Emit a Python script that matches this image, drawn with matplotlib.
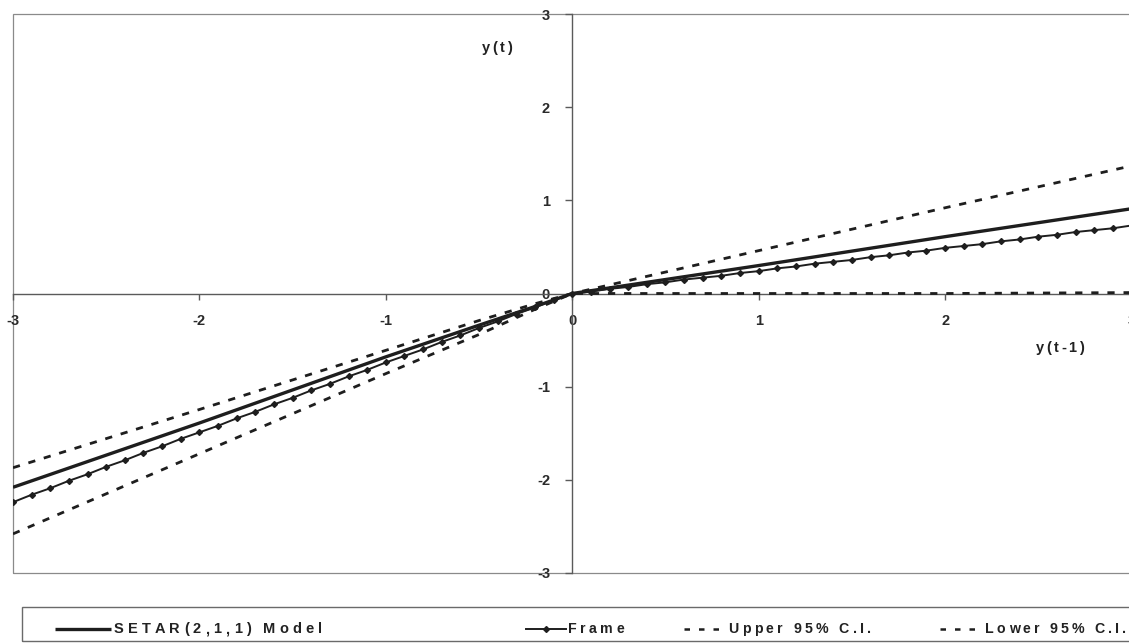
import numpy as np
import matplotlib
matplotlib.use("Agg")
import matplotlib.pyplot as plt
from matplotlib.lines import Line2D
from matplotlib.patches import Rectangle
from matplotlib.font_manager import FontProperties

plt.rcParams["font.family"] = ["Liberation Sans", "DejaVu Sans"]
plt.rcParams["axes.unicode_minus"] = False

# ---- data -------------------------------------------------------------
# lagged value grid for the model and confidence band
x_model = [-3.0, -2.0, -1.0, -0.5, -0.2, 0.0, 1.0, 2.0, 3.0]
setar = [-2.08, -1.39, -0.68, -0.34, -0.14, 0.0, 0.30, 0.61, 0.91]
upper_ci = [-1.87, -1.245, -0.61, -0.29, -0.11, 0.0, 0.46, 0.92, 1.37]
lower_ci = [-2.58, -1.72, -0.86, -0.44, -0.17, 0.0, 0.0, 0.0, 0.01]

# frame evaluated on a 0.1 grid from -3 to 3
x_frame = np.round(np.linspace(-3.0, 3.0, 61), 1)
frame = [-2.24, -2.16, -2.09, -2.01, -1.94, -1.86, -1.79, -1.71, -1.64, -1.56,
         -1.49, -1.42, -1.34, -1.27, -1.19, -1.12, -1.04, -0.97, -0.89, -0.82,
         -0.74, -0.67, -0.60, -0.52, -0.45, -0.37, -0.30, -0.22, -0.15, -0.07,
         0.00,
         0.02, 0.05, 0.07, 0.10, 0.12, 0.15, 0.17, 0.19, 0.22, 0.24,
         0.27, 0.29, 0.32, 0.34, 0.36, 0.39, 0.41, 0.44, 0.46, 0.49,
         0.51, 0.53, 0.56, 0.58, 0.61, 0.63, 0.66, 0.68, 0.70, 0.73]

ticks = [-3, -2, -1, 0, 1, 2, 3]
tick_labels = ["-3", "-2", "-1", "0", "1", "2", "3"]
legend_labels = ["SETAR(2,1,1) Model", "Frame", "Upper 95% C.I.", "Lower 95% C.I."]

# ---- figure -----------------------------------------------------------
W, H = 1129, 643
fig = plt.figure(figsize=(W / 100, H / 100), dpi=100)
fig.patch.set_facecolor("white")

left_px, right_px, top_px, bottom_px = 13, 1131.5, 14, 573
ax = fig.add_axes([left_px / W, (H - bottom_px) / H,
                   (right_px - left_px) / W, (bottom_px - top_px) / H])
ax.set_xlim(-3, 3)
ax.set_ylim(-3, 3)
ax.set_facecolor("white")

ink = "#1e1e1e"
axis_col = "#5a5a5a"
dash = (0, (2.6, 3.2))

ax.plot(x_model, setar, color=ink, lw=2.4, solid_capstyle="butt", zorder=4)
ax.plot(x_frame, frame, color=ink, lw=1.4, marker="D", ms=3.0, zorder=4)
ax.plot(x_model, upper_ci, color=ink, lw=2.0, ls=dash, zorder=3)
ax.plot(x_model, lower_ci, color=ink, lw=2.0, ls=dash, zorder=3)

# axes crossing at the origin
for side in ("top", "right"):
    ax.spines[side].set_visible(False)
ax.spines["left"].set_position("zero")
ax.spines["bottom"].set_position("zero")
for side in ("left", "bottom"):
    ax.spines[side].set_color(axis_col)
    ax.spines[side].set_linewidth(1.0)
    ax.spines[side].set_zorder(2)

ax.set_xticks(ticks)
ax.set_xticklabels(tick_labels)
ax.set_yticks(ticks)
ax.set_yticklabels(tick_labels)
ax.tick_params(axis="x", direction="out", length=4, width=1.0, color=axis_col,
               pad=11, labelsize=10.5, labelcolor="#2a2a2a")
ax.tick_params(axis="y", direction="out", length=5, width=1.0, color=axis_col,
               pad=11, labelsize=10.5, labelcolor="#2a2a2a")
for lab in ax.get_xticklabels() + ax.get_yticklabels():
    lab.set_fontweight("bold")

# plot area border
ax.add_patch(Rectangle((0, 0), 1, 1, transform=ax.transAxes, fill=False,
                       edgecolor="#8a8a8a", lw=0.9, clip_on=False, zorder=1))

renderer = fig.canvas.get_renderer()


def tracked_text(x_px, y_px, s, size, track_px, ha="left", color="#222222"):
    """Draw bold text with extra letter spacing, positioned in pixels."""
    fp = FontProperties(family=["Liberation Sans", "DejaVu Sans"],
                        weight="bold", size=size)
    widths = []
    for ch in s:
        if ch == " ":
            w, _, _ = renderer.get_text_width_height_descent("a a", fp, ismath=False)
            w2, _, _ = renderer.get_text_width_height_descent("aa", fp, ismath=False)
            widths.append(w - w2)
        else:
            w, _, _ = renderer.get_text_width_height_descent(ch, fp, ismath=False)
            widths.append(w)
    total = sum(widths) + track_px * (len(s) - 1)
    if ha == "center":
        x = x_px - total / 2
    elif ha == "right":
        x = x_px - total
    else:
        x = x_px
    for ch, w in zip(s, widths):
        if ch != " ":
            fig.text(x / W, 1 - y_px / H, ch, fontproperties=fp, color=color,
                     ha="left", va="center")
        x += w + track_px


# axis titles
tracked_text(497, 48, "y(t)", 10.5, 2.2, ha="center")
tracked_text(1060, 348, "y(t-1)", 10.5, 2.4, ha="center")

# ---- legend -----------------------------------------------------------
fig.add_artist(Rectangle((22 / W, 1 - 641 / H), (1140 - 22) / W, (641 - 607) / H,
                         transform=fig.transFigure, fill=False,
                         edgecolor="#6a6a6a", lw=1.0))
ly = 1 - 629 / H
fig.add_artist(Line2D([55 / W, 111 / W], [ly, ly], transform=fig.transFigure,
                      color=ink, lw=2.4, solid_capstyle="butt"))
fig.add_artist(Line2D([526 / W, 566 / W], [ly, ly], transform=fig.transFigure,
                      color=ink, lw=1.4))
fig.add_artist(Line2D([546 / W], [ly], transform=fig.transFigure,
                      color=ink, marker="D", ms=3.0, lw=0))
legend_dash = (0, (2.2, 3.6))
fig.add_artist(Line2D([684 / W, 722 / W], [ly, ly], transform=fig.transFigure,
                      color=ink, lw=1.8, ls=legend_dash))
fig.add_artist(Line2D([940 / W, 978 / W], [ly, ly], transform=fig.transFigure,
                      color=ink, lw=1.8, ls=legend_dash))

tracked_text(114, 629, legend_labels[0], 10.5, 4.1)
tracked_text(568, 629, legend_labels[1], 10.2, 3.4)
tracked_text(728, 629, legend_labels[2], 10.2, 3.4)
tracked_text(985, 629, legend_labels[3], 10.2, 3.2)

fig.savefig("out.png", dpi=100)
